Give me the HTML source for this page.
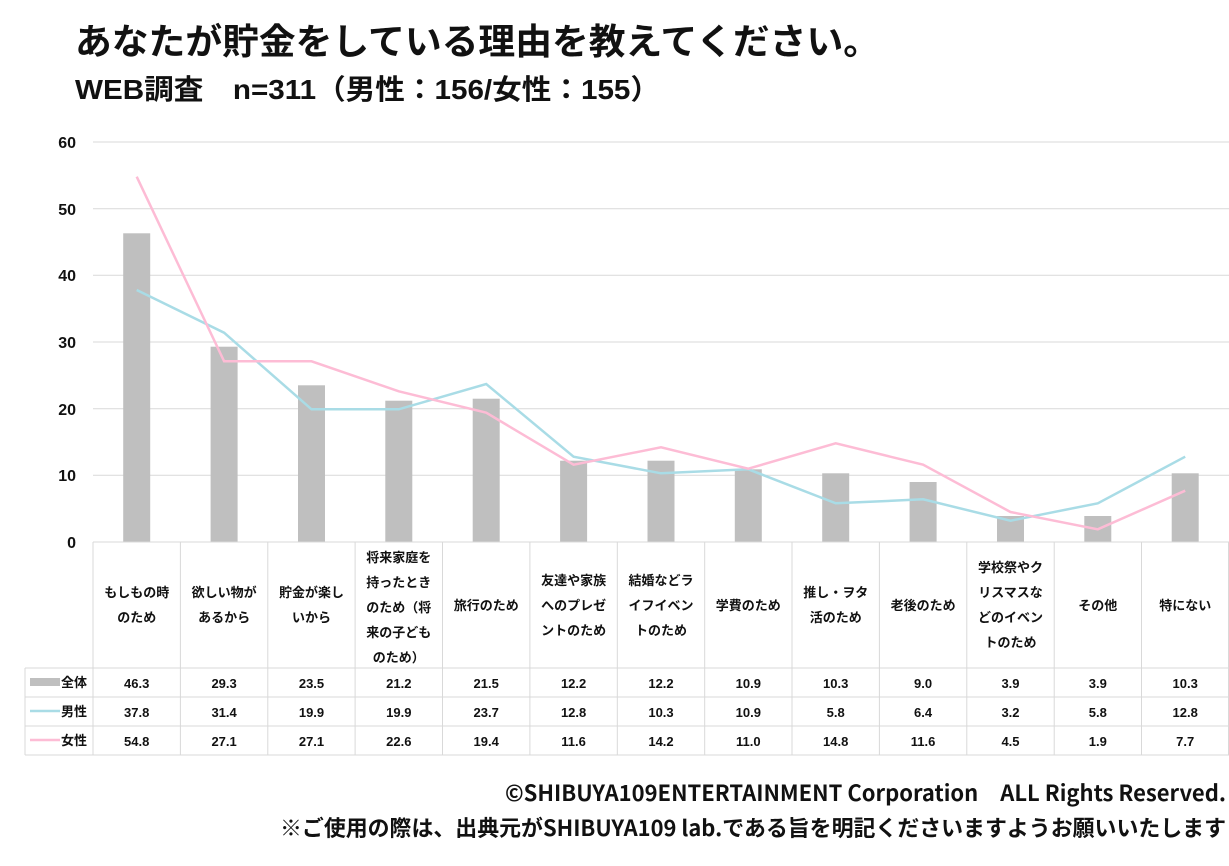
<!DOCTYPE html>
<html><head><meta charset="utf-8"><style>
body{margin:0;background:#fff;}
svg{display:block;}
.t{font-family:"Liberation Sans","Noto Sans CJK JP",sans-serif;font-weight:bold;}
.j{font-family:"Noto Sans CJK JP",sans-serif;font-weight:bold;}
</style></head><body>
<svg width="1229" height="866" xmlns="http://www.w3.org/2000/svg">
<text x="75" y="54" class="j" font-size="36" fill="#111" textLength="805" lengthAdjust="spacingAndGlyphs">あなたが貯金をしている理由を教えてください。</text>
<text x="75" y="99" class="t" font-size="28" fill="#111" textLength="585" lengthAdjust="spacingAndGlyphs">WEB調査　n=311（男性：156/女性：155）</text>
<g stroke="#d9d9d9" stroke-width="1">
<line x1="93" y1="142" x2="1229" y2="142"/><line x1="93" y1="208.7" x2="1229" y2="208.7"/>
<line x1="93" y1="275.3" x2="1229" y2="275.3"/><line x1="93" y1="342" x2="1229" y2="342"/>
<line x1="93" y1="408.7" x2="1229" y2="408.7"/><line x1="93" y1="475.3" x2="1229" y2="475.3"/>
</g>
<g class="t" font-size="16" fill="#111" text-anchor="end">
<text x="76" y="148">60</text><text x="76" y="215">50</text><text x="76" y="281">40</text>
<text x="76" y="348">30</text><text x="76" y="415">20</text><text x="76" y="481">10</text><text x="76" y="548">0</text>
</g>
<g fill="#bfbfbf">
<rect x="123.2" y="233.3" width="27" height="308.7"/><rect x="210.6" y="346.7" width="27" height="195.3"/>
<rect x="298" y="385.3" width="27" height="156.7"/><rect x="385.3" y="400.7" width="27" height="141.3"/>
<rect x="472.7" y="398.7" width="27" height="143.3"/><rect x="560.1" y="460.7" width="27" height="81.3"/>
<rect x="647.5" y="460.7" width="27" height="81.3"/><rect x="734.8" y="469.3" width="27" height="72.7"/>
<rect x="822.2" y="473.3" width="27" height="68.7"/><rect x="909.6" y="482" width="27" height="60"/>
<rect x="997" y="516" width="27" height="26"/><rect x="1084.3" y="516" width="27" height="26"/>
<rect x="1171.7" y="473.3" width="27" height="68.7"/>
</g>
<polyline fill="none" stroke="#a9dce6" stroke-width="2.5" points="136.7,290 224.1,332.7 311.5,409.3 398.8,409.3 486.2,384 573.6,456.7 661,473.3 748.3,469.3 835.7,503.3 923.1,499.3 1010.5,520.7 1097.8,503.3 1185.2,456.7"/>
<polyline fill="none" stroke="#fdbcd5" stroke-width="2.5" points="136.7,176.7 224.1,361.3 311.5,361.3 398.8,391.3 486.2,412.7 573.6,464.7 661,447.3 748.3,468.7 835.7,443.3 923.1,464.7 1010.5,512 1097.8,529.3 1185.2,490.7"/>
<g stroke="#d9d9d9" stroke-width="1" fill="none">
<line x1="93" y1="542" x2="1229" y2="542"/>
<line x1="25" y1="668" x2="1229" y2="668"/><line x1="25" y1="697" x2="1229" y2="697"/>
<line x1="25" y1="726" x2="1229" y2="726"/><line x1="25" y1="755" x2="1229" y2="755"/>
<line x1="25" y1="668" x2="25" y2="755"/>
<line x1="93" y1="542" x2="93" y2="755"/><line x1="180.4" y1="542" x2="180.4" y2="755"/>
<line x1="267.8" y1="542" x2="267.8" y2="755"/><line x1="355.1" y1="542" x2="355.1" y2="755"/>
<line x1="442.5" y1="542" x2="442.5" y2="755"/><line x1="529.9" y1="542" x2="529.9" y2="755"/>
<line x1="617.3" y1="542" x2="617.3" y2="755"/><line x1="704.7" y1="542" x2="704.7" y2="755"/>
<line x1="792" y1="542" x2="792" y2="755"/><line x1="879.4" y1="542" x2="879.4" y2="755"/>
<line x1="966.8" y1="542" x2="966.8" y2="755"/><line x1="1054.2" y1="542" x2="1054.2" y2="755"/>
<line x1="1141.5" y1="542" x2="1141.5" y2="755"/><line x1="1228.5" y1="542" x2="1228.5" y2="755"/>
</g>
<g class="j" font-size="13" fill="#111" text-anchor="middle">
<text x="136.7" y="597">もしもの時</text><text x="136.7" y="622">のため</text>
<text x="224.1" y="597">欲しい物が</text><text x="224.1" y="622">あるから</text>
<text x="311.5" y="597">貯金が楽し</text><text x="311.5" y="622">いから</text>
<text x="398.8" y="562">将来家庭を</text><text x="398.8" y="587">持ったとき</text><text x="398.8" y="612">のため（将</text><text x="398.8" y="637">来の子ども</text><text x="398.8" y="662">のため）</text>
<text x="486.2" y="610">旅行のため</text>
<text x="573.6" y="585">友達や家族</text><text x="573.6" y="610">へのプレゼ</text><text x="573.6" y="635">ントのため</text>
<text x="661" y="585">結婚などラ</text><text x="661" y="610">イフイベン</text><text x="661" y="635">トのため</text>
<text x="748.3" y="610">学費のため</text>
<text x="835.7" y="597">推し・ヲタ</text><text x="835.7" y="622">活のため</text>
<text x="923.1" y="610">老後のため</text>
<text x="1010.5" y="572">学校祭やク</text><text x="1010.5" y="597">リスマスな</text><text x="1010.5" y="622">どのイベン</text><text x="1010.5" y="647">トのため</text>
<text x="1097.8" y="610">その他</text>
<text x="1185.2" y="610">特にない</text>
</g>
<rect x="30" y="678" width="30" height="8" fill="#bfbfbf"/>
<line x1="30" y1="711" x2="60" y2="711" stroke="#a9dce6" stroke-width="2.5"/>
<line x1="30" y1="740" x2="60" y2="740" stroke="#fdbcd5" stroke-width="2.5"/>
<g class="j" font-size="13" fill="#111">
<text x="61" y="687">全体</text><text x="61" y="716">男性</text><text x="61" y="745">女性</text>
</g>
<g class="t" font-size="13" fill="#111" text-anchor="middle">
<text y="688"><tspan x="136.7">46.3</tspan><tspan x="224.1">29.3</tspan><tspan x="311.5">23.5</tspan><tspan x="398.8">21.2</tspan><tspan x="486.2">21.5</tspan><tspan x="573.6">12.2</tspan><tspan x="661">12.2</tspan><tspan x="748.3">10.9</tspan><tspan x="835.7">10.3</tspan><tspan x="923.1">9.0</tspan><tspan x="1010.5">3.9</tspan><tspan x="1097.8">3.9</tspan><tspan x="1185.2">10.3</tspan></text>
<text y="717"><tspan x="136.7">37.8</tspan><tspan x="224.1">31.4</tspan><tspan x="311.5">19.9</tspan><tspan x="398.8">19.9</tspan><tspan x="486.2">23.7</tspan><tspan x="573.6">12.8</tspan><tspan x="661">10.3</tspan><tspan x="748.3">10.9</tspan><tspan x="835.7">5.8</tspan><tspan x="923.1">6.4</tspan><tspan x="1010.5">3.2</tspan><tspan x="1097.8">5.8</tspan><tspan x="1185.2">12.8</tspan></text>
<text y="746"><tspan x="136.7">54.8</tspan><tspan x="224.1">27.1</tspan><tspan x="311.5">27.1</tspan><tspan x="398.8">22.6</tspan><tspan x="486.2">19.4</tspan><tspan x="573.6">11.6</tspan><tspan x="661">14.2</tspan><tspan x="748.3">11.0</tspan><tspan x="835.7">14.8</tspan><tspan x="923.1">11.6</tspan><tspan x="1010.5">4.5</tspan><tspan x="1097.8">1.9</tspan><tspan x="1185.2">7.7</tspan></text>
</g>
<g class="j" font-size="22" fill="#111" text-anchor="end" font-weight="500">
<text x="1226" y="801" textLength="721" lengthAdjust="spacingAndGlyphs">©SHIBUYA109ENTERTAINMENT Corporation　ALL Rights Reserved.</text>
<text x="1226" y="836" textLength="946" lengthAdjust="spacingAndGlyphs">※ご使用の際は、出典元がSHIBUYA109 lab.である旨を明記くださいますようお願いいたします</text>
</g>
</svg>
</body></html>
